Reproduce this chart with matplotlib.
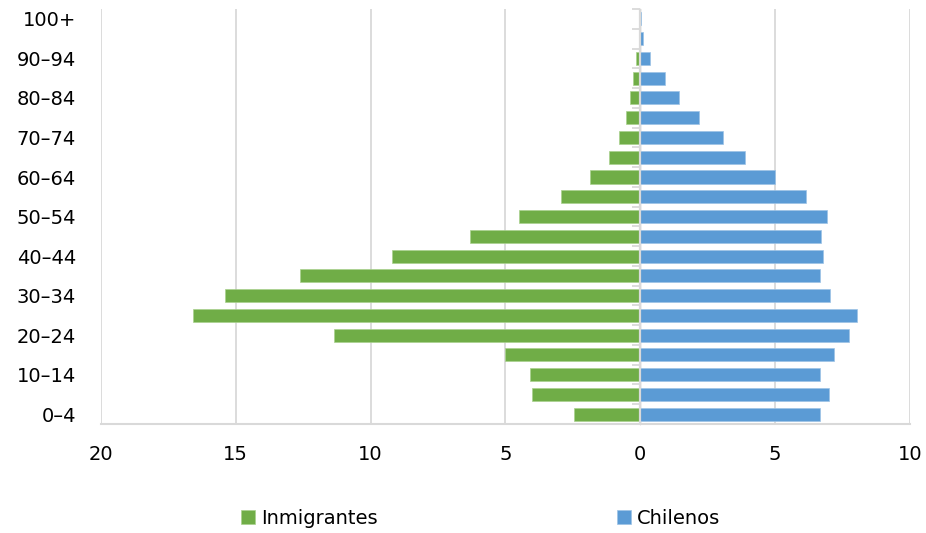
import matplotlib
matplotlib.use("Agg")
import matplotlib.pyplot as plt

# grupos de edad, de abajo hacia arriba
edades = ["0–4", "5–9", "10–14", "15–19", "20–24", "25–29", "30–34", "35–39",
          "40–44", "45–49", "50–54", "55–59", "60–64", "65–69", "70–74",
          "75–79", "80–84", "85–89", "90–94", "95–99", "100+"]
inmigrantes = [2.45, 4.0, 4.1, 5.0, 11.35, 16.6, 15.4, 12.6, 9.2, 6.33, 4.5,
               2.93, 1.86, 1.15, 0.78, 0.52, 0.39, 0.27, 0.15, 0.06, 0.01]
chilenos = [6.67, 7.0, 6.67, 7.17, 7.74, 8.04, 7.04, 6.67, 6.78, 6.69, 6.91,
            6.15, 5.0, 3.87, 3.08, 2.17, 1.43, 0.92, 0.35, 0.1, 0.02]
x_ticks = [-20, -15, -10, -5, 0, 5, 10]
x_labels = ["20", "15", "10", "5", "0", "5", "10"]

VERDE = "#70AD47"
AZUL = "#5B9BD5"
GRIS = "#d9d9d9"

plt.rcParams["font.family"] = ["DejaVu Sans"]

fig = plt.figure(figsize=(9.26, 5.33), dpi=100)
ax = fig.add_axes([0.109, 0.2045, 0.8737, 0.7785])

y = list(range(len(edades)))
ax.barh(y, [-v for v in inmigrantes], height=0.66, color=VERDE,
        edgecolor="#a9d18e", linewidth=0.5, label="Inmigrantes", zorder=3)
ax.barh(y, chilenos, height=0.66, color=AZUL,
        edgecolor="#9dc3e6", linewidth=0.5, label="Chilenos", zorder=3)

ax.set_xlim(-20, 10)
ax.set_ylim(-0.5, len(edades) - 0.5)
ax.set_xticks(x_ticks, x_labels, fontsize=14)
ax.set_yticks(y[::2], edades[::2], fontsize=14)
ax.tick_params(axis="x", length=0, pad=15)
ax.tick_params(axis="y", length=0, pad=18)
ax.grid(axis="x", color=GRIS, linewidth=1.3, zorder=0)
for s in ["top", "right", "left"]:
    ax.spines[s].set_visible(False)
ax.spines["bottom"].set_color(GRIS)
ax.spines["bottom"].set_linewidth(1.5)

# eje vertical en cero con marcas entre categorias
ax.axvline(0, color=GRIS, linewidth=1.6, zorder=4)
eje0 = ax.secondary_yaxis(20 / 30)
eje0.set_yticks([i - 0.5 for i in range(len(edades) + 1)], [])
eje0.tick_params(length=6, color=GRIS, width=1.3, direction="in")
eje0.spines["left"].set_visible(False)

fig.legend(loc="center", bbox_to_anchor=(0.519, 0.028), ncol=2, frameon=False,
           fontsize=14, handlelength=0.72, handleheight=0.72, handletextpad=0.3,
           columnspacing=12.3, borderaxespad=0)

fig.savefig("out.png", dpi=100)
